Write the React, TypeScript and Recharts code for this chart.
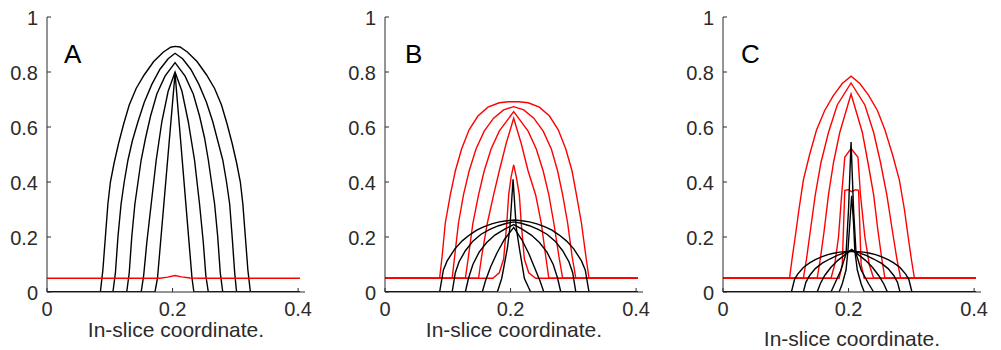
import React from 'react';
import { LineChart, Line, XAxis, YAxis } from 'recharts';

type Pt = [number, number];

const xTicks = [0, 0.2, 0.4];
const yTicks = [0, 0.2, 0.4, 0.6, 0.8, 1];
const xLabel = 'In-slice coordinate.';
const panelLetters = ['A', 'B', 'C'];

// ---------- Panel A ----------
const aBlack1: Pt[] = [[0,0],[0.085,0],[0.089,0.08],[0.093,0.2],[0.097,0.32],[0.101,0.40],[0.107,0.47],[0.114,0.54],[0.122,0.61],[0.131,0.68],[0.142,0.74],[0.155,0.79],[0.170,0.838],[0.185,0.872],[0.197,0.890],[0.204,0.893],[0.212,0.891],[0.224,0.872],[0.239,0.838],[0.254,0.79],[0.267,0.74],[0.278,0.68],[0.287,0.61],[0.295,0.54],[0.302,0.47],[0.308,0.40],[0.312,0.32],[0.316,0.2],[0.320,0.08],[0.324,0],[0.403,0]];
const aBlack2: Pt[] = [[0,0],[0.105,0],[0.109,0.07],[0.113,0.2],[0.118,0.32],[0.123,0.40],[0.129,0.48],[0.136,0.55],[0.145,0.62],[0.155,0.69],[0.167,0.755],[0.180,0.81],[0.193,0.848],[0.204,0.868],[0.216,0.848],[0.229,0.81],[0.242,0.755],[0.254,0.69],[0.264,0.62],[0.272,0.55],[0.280,0.48],[0.286,0.40],[0.291,0.32],[0.295,0.2],[0.299,0.07],[0.302,0],[0.403,0]];
const aBlack3: Pt[] = [[0,0],[0.127,0],[0.131,0.07],[0.135,0.2],[0.140,0.32],[0.145,0.40],[0.150,0.48],[0.157,0.56],[0.165,0.64],[0.175,0.72],[0.188,0.785],[0.204,0.834],[0.220,0.785],[0.233,0.72],[0.243,0.64],[0.251,0.56],[0.257,0.48],[0.262,0.40],[0.267,0.32],[0.272,0.2],[0.276,0.07],[0.280,0],[0.403,0]];
const aBlack4: Pt[] = [[0,0],[0.150,0],[0.154,0.06],[0.159,0.18],[0.166,0.32],[0.174,0.48],[0.183,0.62],[0.193,0.73],[0.204,0.80],[0.215,0.73],[0.225,0.62],[0.235,0.48],[0.243,0.32],[0.249,0.18],[0.253,0.06],[0.257,0],[0.403,0]];
const aBlack5: Pt[] = [[0,0],[0.172,0],[0.176,0.05],[0.204,0.795],[0.231,0.05],[0.234,0],[0.403,0]];
const aRed: Pt[] = [[0,0.05],[0.180,0.05],[0.192,0.054],[0.204,0.06],[0.214,0.055],[0.228,0.051],[0.245,0.05],[0.403,0.05]];

// ---------- Panel B ----------
const bRed1: Pt[] = [[0,0.05],[0.087,0.05],[0.091,0.13],[0.096,0.25],[0.104,0.353],[0.112,0.44],[0.122,0.52],[0.134,0.59],[0.148,0.64],[0.164,0.672],[0.182,0.688],[0.197,0.692],[0.213,0.692],[0.228,0.688],[0.246,0.672],[0.262,0.64],[0.276,0.59],[0.288,0.52],[0.298,0.44],[0.305,0.353],[0.313,0.25],[0.320,0.13],[0.325,0.05],[0.403,0.05]];
const bRed2: Pt[] = [[0,0.05],[0.107,0.05],[0.111,0.13],[0.117,0.25],[0.125,0.353],[0.134,0.44],[0.145,0.52],[0.158,0.585],[0.173,0.632],[0.189,0.662],[0.205,0.674],[0.221,0.662],[0.237,0.632],[0.252,0.585],[0.265,0.52],[0.275,0.44],[0.283,0.353],[0.291,0.25],[0.298,0.13],[0.304,0.05],[0.403,0.05]];
const bRed3: Pt[] = [[0,0.05],[0.128,0.05],[0.133,0.13],[0.140,0.25],[0.149,0.353],[0.158,0.44],[0.169,0.52],[0.182,0.585],[0.205,0.656],[0.228,0.585],[0.241,0.52],[0.252,0.44],[0.261,0.353],[0.269,0.25],[0.277,0.13],[0.283,0.05],[0.403,0.05]];
const bRed4: Pt[] = [[0,0.05],[0.149,0.05],[0.154,0.13],[0.163,0.25],[0.173,0.353],[0.182,0.44],[0.193,0.54],[0.205,0.632],[0.217,0.54],[0.228,0.44],[0.240,0.353],[0.249,0.25],[0.256,0.13],[0.261,0.05],[0.403,0.05]];
const bRed5: Pt[] = [[0,0.05],[0.172,0.05],[0.182,0.07],[0.189,0.12],[0.194,0.25],[0.197,0.353],[0.201,0.42],[0.205,0.462],[0.209,0.42],[0.214,0.353],[0.217,0.25],[0.222,0.12],[0.229,0.07],[0.240,0.05],[0.403,0.05]];
const bBlack1: Pt[] = [[0,0],[0.087,0],[0.093,0.08],[0.099,0.113],[0.111,0.156],[0.123,0.186],[0.135,0.208],[0.146,0.225],[0.158,0.238],[0.170,0.248],[0.182,0.255],[0.194,0.259],[0.206,0.262],[0.218,0.259],[0.230,0.255],[0.242,0.248],[0.254,0.238],[0.266,0.225],[0.277,0.208],[0.289,0.186],[0.301,0.156],[0.313,0.113],[0.319,0.08],[0.325,0],[0.403,0]];
const bBlack2: Pt[] = [[0,0],[0.107,0],[0.112,0.07],[0.118,0.11],[0.128,0.15],[0.140,0.185],[0.153,0.21],[0.167,0.228],[0.181,0.241],[0.194,0.25],[0.205,0.255],[0.217,0.25],[0.230,0.241],[0.244,0.228],[0.258,0.21],[0.271,0.185],[0.283,0.15],[0.293,0.11],[0.299,0.07],[0.304,0],[0.403,0]];
const bBlack3: Pt[] = [[0,0],[0.128,0],[0.133,0.05],[0.140,0.10],[0.150,0.145],[0.162,0.18],[0.175,0.207],[0.190,0.228],[0.205,0.245],[0.219,0.228],[0.233,0.207],[0.246,0.18],[0.258,0.145],[0.268,0.10],[0.275,0.05],[0.280,0],[0.403,0]];
const bBlack4: Pt[] = [[0,0],[0.155,0],[0.160,0.04],[0.168,0.09],[0.178,0.14],[0.190,0.19],[0.205,0.235],[0.218,0.19],[0.229,0.14],[0.238,0.09],[0.247,0.04],[0.253,0],[0.403,0]];
const bBlack5: Pt[] = [[0,0],[0.179,0],[0.186,0.05],[0.195,0.16],[0.199,0.235],[0.204,0.41],[0.209,0.235],[0.214,0.16],[0.222,0.05],[0.232,0],[0.403,0]];

// ---------- Panel C ----------
const cRed1: Pt[] = [[0,0.05],[0.106,0.05],[0.110,0.12],[0.115,0.2],[0.121,0.3],[0.128,0.407],[0.138,0.5],[0.149,0.589],[0.162,0.66],[0.176,0.715],[0.190,0.758],[0.204,0.785],[0.218,0.758],[0.232,0.715],[0.246,0.66],[0.258,0.589],[0.270,0.5],[0.281,0.407],[0.289,0.3],[0.295,0.2],[0.300,0.12],[0.305,0.05],[0.403,0.05]];
const cRed2: Pt[] = [[0,0.05],[0.128,0.05],[0.133,0.12],[0.139,0.22],[0.147,0.353],[0.156,0.47],[0.168,0.58],[0.182,0.68],[0.204,0.76],[0.226,0.68],[0.240,0.58],[0.251,0.47],[0.261,0.353],[0.270,0.22],[0.277,0.12],[0.283,0.05],[0.403,0.05]];
const cRed3: Pt[] = [[0,0.05],[0.150,0.05],[0.155,0.12],[0.161,0.22],[0.168,0.353],[0.176,0.47],[0.186,0.58],[0.195,0.65],[0.204,0.72],[0.213,0.65],[0.222,0.58],[0.231,0.47],[0.240,0.353],[0.247,0.22],[0.253,0.12],[0.258,0.05],[0.403,0.05]];
const cRed4: Pt[] = [[0,0.05],[0.172,0.05],[0.178,0.1],[0.184,0.2],[0.189,0.353],[0.194,0.49],[0.204,0.522],[0.215,0.49],[0.219,0.353],[0.226,0.2],[0.233,0.1],[0.240,0.05],[0.403,0.05]];
const cRed5: Pt[] = [[0,0.05],[0.185,0.05],[0.190,0.1],[0.194,0.37],[0.199,0.372],[0.205,0.365],[0.211,0.372],[0.216,0.37],[0.220,0.1],[0.225,0.05],[0.403,0.05]];
const cBlack1: Pt[] = [[0,0],[0.109,0],[0.114,0.046],[0.119,0.065],[0.128,0.089],[0.138,0.106],[0.147,0.118],[0.157,0.128],[0.167,0.136],[0.176,0.141],[0.186,0.145],[0.195,0.147],[0.205,0.148],[0.215,0.147],[0.224,0.145],[0.234,0.141],[0.243,0.136],[0.253,0.128],[0.263,0.118],[0.272,0.106],[0.282,0.089],[0.291,0.065],[0.296,0.046],[0.301,0],[0.403,0]];
const cBlack2: Pt[] = [[0,0],[0.128,0],[0.132,0.035],[0.138,0.06],[0.147,0.085],[0.158,0.105],[0.170,0.12],[0.182,0.133],[0.194,0.143],[0.205,0.149],[0.216,0.143],[0.228,0.133],[0.240,0.12],[0.252,0.105],[0.263,0.085],[0.272,0.06],[0.278,0.035],[0.282,0],[0.403,0]];
const cBlack3: Pt[] = [[0,0],[0.150,0],[0.155,0.03],[0.162,0.06],[0.172,0.09],[0.183,0.115],[0.194,0.135],[0.205,0.155],[0.216,0.135],[0.227,0.115],[0.238,0.09],[0.248,0.06],[0.256,0.03],[0.262,0],[0.403,0]];
const cBlack4: Pt[] = [[0,0],[0.172,0],[0.178,0.03],[0.188,0.08],[0.196,0.14],[0.200,0.3],[0.204,0.545],[0.208,0.3],[0.212,0.14],[0.220,0.08],[0.232,0.03],[0.240,0],[0.403,0]];
const cBlack5: Pt[] = [[0,0],[0.185,0],[0.190,0.03],[0.196,0.08],[0.199,0.15],[0.202,0.25],[0.205,0.35],[0.208,0.25],[0.210,0.15],[0.214,0.08],[0.220,0.03],[0.225,0],[0.403,0]];

const BLACK = '#000000';
const RED = '#ff0000';
const AX = '#2b2b2b';
const FONT = '"Liberation Sans", Arial, Helvetica, sans-serif';
const TL = 4;
const TICK_FS = 20;

type Series = { pts: Pt[]; color: string };
type Panel = { letter: string; left: number; letterX: number; labelOffset: number; series: Series[] };

const panels: Panel[] = [
  {
    letter: panelLetters[0], left: 0, letterX: 64, labelOffset: 13,
    series: [aBlack1, aBlack2, aBlack3, aBlack4, aBlack5].map((pts) => ({ pts, color: BLACK })).concat([{ pts: aRed, color: RED }]),
  },
  {
    letter: panelLetters[1], left: 338, letterX: 405, labelOffset: 13,
    series: [bRed1, bRed2, bRed3, bRed4, bRed5].map((pts) => ({ pts, color: RED }))
      .concat([bBlack1, bBlack2, bBlack3, bBlack4, bBlack5].map((pts) => ({ pts, color: BLACK }))),
  },
  {
    letter: panelLetters[2], left: 676, letterX: 741, labelOffset: 4,
    series: [cRed1, cRed2, cRed3, cRed4, cRed5].map((pts) => ({ pts, color: RED }))
      .concat([cBlack1, cBlack2, cBlack3, cBlack4, cBlack5].map((pts) => ({ pts, color: BLACK }))),
  },
];

const fmt = (v: number) => String(v);

const BottomTick = (p: any) => (
  <g>
    <line x1={p.x} x2={p.x} y1={p.y} y2={p.y - TL} stroke={AX} strokeWidth={1} />
    <text x={p.x} y={p.y + 24} textAnchor="middle" fontSize={TICK_FS} fill={AX} fontFamily={FONT}>{fmt(p.payload.value)}</text>
  </g>
);
const TopTick = (p: any) => (
  <line x1={p.x} x2={p.x} y1={p.y} y2={p.y + TL} stroke={AX} strokeWidth={1} />
);
const LeftTick = (p: any) => (
  <g>
    <line x1={p.x} x2={p.x + TL} y1={p.y} y2={p.y} stroke={AX} strokeWidth={1} />
    <text x={p.x - 9} y={p.y + 8} textAnchor="end" fontSize={TICK_FS} fill={AX} fontFamily={FONT}>{fmt(p.payload.value)}</text>
  </g>
);
const RightTick = (p: any) => (
  <line x1={p.x} x2={p.x - TL} y1={p.y} y2={p.y} stroke={AX} strokeWidth={1} />
);

const XMAX = 0.411;

function PanelChart({ panel }: { panel: Panel }) {
  return (
    <div style={{ position: 'absolute', left: panel.left, top: 0, width: 316, height: 350 }}>
      <LineChart width={316} height={350} margin={{ top: 17, right: 11, bottom: 0, left: 0 }}>
        <XAxis
          xAxisId="b" dataKey="x" type="number" domain={[0, XMAX]} ticks={xTicks} allowDataOverflow
          orientation="bottom" height={58} interval={0} tickSize={0} tickMargin={0} tickLine={false}
          axisLine={{ stroke: AX, strokeWidth: 1 }} tick={BottomTick}
          label={{ value: xLabel, position: 'insideBottom', offset: panel.labelOffset, fontSize: 21, fill: AX, fontFamily: FONT }}
        />
        <XAxis
          xAxisId="t" dataKey="x" type="number" domain={[0, XMAX]} ticks={xTicks} allowDataOverflow
          orientation="top" height={0} interval={0} tickSize={0} tickMargin={0} tickLine={false}
          axisLine={{ stroke: AX, strokeWidth: 1 }} tick={TopTick}
        />
        <YAxis
          yAxisId="l" type="number" domain={[0, 1]} ticks={yTicks} allowDataOverflow
          orientation="left" width={47} interval={0} tickSize={0} tickMargin={0} tickLine={false}
          axisLine={{ stroke: AX, strokeWidth: 1 }} tick={LeftTick}
        />
        <YAxis
          yAxisId="r" type="number" domain={[0, 1]} ticks={yTicks} allowDataOverflow
          orientation="right" width={0} interval={0} tickSize={0} tickMargin={0} tickLine={false}
          axisLine={{ stroke: AX, strokeWidth: 1 }} tick={RightTick}
        />
        {panel.series.map((s, i) => (
          <Line
            key={i}
            xAxisId="b"
            yAxisId="l"
            data={s.pts.map(([x, y]) => ({ x, y }))}
            dataKey="y"
            type="linear"
            stroke={s.color}
            strokeWidth={1.4}
            dot={false}
            activeDot={false}
            isAnimationActive={false}
          />
        ))}
      </LineChart>
    </div>
  );
}

export default function App() {
  return (
    <div style={{ position: 'absolute', left: 0, top: 0, width: 1001, height: 350, background: '#ffffff', overflow: 'hidden' }}>
      {panels.map((p) => (
        <PanelChart key={p.letter} panel={p} />
      ))}
      <svg width={1001} height={350} style={{ position: 'absolute', left: 0, top: 0, pointerEvents: 'none' }}>
        {panels.map((p) => (
          <text key={p.letter} x={p.letterX} y={63} fontSize={26} fill="#000" fontFamily={FONT}>{p.letter}</text>
        ))}
      </svg>
    </div>
  );
}
